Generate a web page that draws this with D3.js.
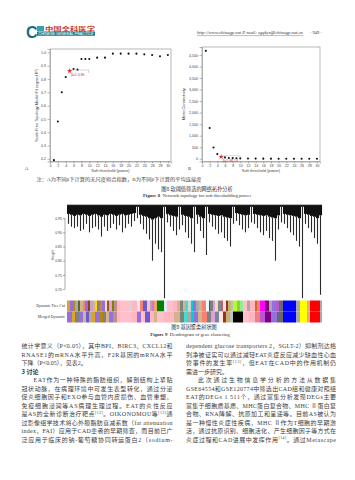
<!DOCTYPE html>
<html><head><meta charset="utf-8">
<script src="https://cdn.jsdelivr.net/npm/d3@7"></script>
<style>body{margin:0;background:#fff}svg{display:block}</style>
</head><body>
<svg id="page" width="355" height="480"></svg>
<script>
// ---------------- DATA ----------------
const powers = [1,2,3,4,5,6,7,8,9,10,12,14,16,18,20,22,24,26,28,30];
const scaleFreeR2 = [0.19,0.48,0.70,0.815,0.86,0.875,0.87,0.95,0.95,0.95,0.96,0.96,0.99,0.99,0.99,0.99,0.985,0.98,0.97,0.98];
const meanConnectivity = [4680,1330,490,200,86,58,35,25,18,14,8,5,4,3,2,2,1,1,1,1];
const chosenPower = 5;
const powerTicks = [0,2,4,6,8,10,12,14,16,18,20,22,24,26,28,30];
const r2Ticks = [0.2,0.3,0.4,0.5,0.6,0.7,0.8,0.9,1.0];
const kTicks = [0,500,1000,1500,2000,2500,3000,3500,4000,4500];
const heightTicks = [0.70,0.75,0.80,0.85,0.90,0.95];

// dendrogram: lowest merge height (tip) and lower edge of the dense band, per leaf group
const dendroTip = [
0.93,0.92,0.915,0.92,0.905,0.91,0.93,0.90,0.915,0.92,0.91,
0.885,
0.92,0.905,0.915,0.93,0.91,0.925,0.90,0.915,0.93,0.92,0.94,0.95,
0.93,0.91,0.895,0.875,0.80,0.86,0.84,0.83,0.668,
0.935,0.92,0.905,0.89,0.91,
0.925,0.90,0.88,0.86,0.83,
0.93,0.905,0.88,0.82,
0.935,0.92,0.91,0.895,0.90,0.88,0.87,0.85,0.93,
0.94,0.925,0.91,0.90,0.915,0.935,
0.93,0.915,0.90,0.89,0.905,0.88,0.87,0.80,0.91,0.935,
0.93,0.915,0.90,0.89,0.87,0.85,0.668,
0.93,0.915,0.90,0.88,0.86,0.68];
const dendroSolid = [
0.965,0.962,0.958,0.962,0.96,0.965,0.962,0.958,0.962,0.965,0.96,
0.955,
0.962,0.96,0.965,0.962,0.958,0.962,0.965,0.96,0.962,0.965,0.968,0.99,
0.962,0.958,0.955,0.95,0.945,0.95,0.955,0.95,0.99,
0.965,0.96,0.958,0.955,0.99,
0.962,0.958,0.955,0.95,0.99,
0.962,0.955,0.95,0.99,
0.965,0.962,0.96,0.958,0.96,0.955,0.952,0.95,0.99,
0.968,0.965,0.962,0.96,0.962,0.99,
0.965,0.962,0.96,0.958,0.96,0.955,0.952,0.95,0.96,0.99,
0.965,0.962,0.96,0.958,0.955,0.95,0.99,
0.965,0.962,0.958,0.955,0.95,0.96];
const dendroTop = 0.996;

const dynamicColors = ["#DAA520","#9370DB","#B8860B","#A9A9A9","#556B2F","#D2B48C","#FA8072","#9370DB","#8B4513","#C8A2C8","#D2B48C","#FFD700","#808080","#CD853F","#9370DB","#F5DEB3","#A0522D","#DDA0DD","#808000","#BC8F8F","#FFB6C1",
"#FFC0CB","#D3D3D3","#FFB6C1",
"#E6E6FA","#FA8072","#6A5ACD","#FFC0CB","#A9A9A9","#DA70D6","#F4A460",
"#008000",
"#E6E6FA","#FFC0CB","#FFB6C1","#D2B48C",
"#808080","#D2B48C","#40E0D0","#D3D3D3","#00CED1","#9370DB","#A9A9A9","#D2B48C","#FA8072","#E0FFFF","#B22222","#808080","#DDA0DD","#F5DEB3","#778899","#CD5C5C","#FFE4E1","#A52A2A","#BDB76B","#C0C0C0",
"#ADFF2F","#9ACD32","#90EE90",
"#FFC0CB","#A9A9A9","#FFB6C1","#D2691E","#F08080",
"#FF00FF","#800080","#A9A9A9","#9370DB","#BA55D3","#696969",
"#0000FF","#A9A9A9","#FFFF00","#D2B48C","#FF0000","#A9A9A9"];
const dynamicSizes = [3,3,2,3,2,3,2,3,2,3,2,2,3,2,3,2,2,3,2,3,3,
10,2,5,
3,3,4,3,2,2,3,
7,
3,6,4,3,
3,2,3,3,2,3,3,3,4,3,1,3,2,3,3,2,3,2,3,2,
4,3,3,
4,3,5,2,3,
5,4,3,4,3,4,
13,4,7,3,10,2];
const mergedColors = ["#9370DB","#DAA520","#808080","#9370DB","#D2B48C","#6A5ACD","#A9A9A9","#DAA520","#9370DB","#B8860B","#808080","#D2B48C","#9370DB","#BC8F8F","#FFB6C1",
"#FFC0CB","#FFB6C1",
"#9370DB","#FFC0CB","#6A5ACD","#FFB6C1","#D2B48C",
"#FFC0CB",
"#FFB6C1","#D2B48C",
"#808080","#40E0D0","#A9A9A9","#00CED1","#9370DB","#D2B48C","#FA8072","#808080","#DDA0DD","#778899","#FFE4E1","#A52A2A","#BDB76B","#C0C0C0",
"#000000",
"#FFC0CB","#FFB6C1","#F08080",
"#BA55D3","#800080","#9370DB","#696969",
"#0000FF","#A9A9A9","#FFFF00","#D2B48C","#FF0000","#A9A9A9"];
const mergedSizes = [5,3,4,4,3,3,3,3,5,3,3,3,4,4,3,
12,5,
4,4,5,4,3,
7,
10,6,
4,3,4,3,4,4,5,4,4,4,4,3,4,3,
10,
6,6,5,
5,6,6,6,
13,4,7,3,10,2];
const rowLabels = ["Dynamic Tree Cut","Merged Dynamic"];

const leftText = [
"统计学意义（P<0.05），其中BPI、BIRC3、CXCL12和",
"RNASE1的mRNA水平升高，F2R基因的mRNA水平",
"下降（P<0.05），见表2。",
"3  讨论",
"　　EAT作为一种特殊的脂肪组织，解剖结构上紧贴",
"冠状动脉，在病理环境中可发生表型转化，通过分泌",
"促炎细胞因子和EXO参与血管内皮损伤、血管重塑、",
"免疫细胞浸润等AS病理生理过程。EAT的炎性反应",
"是AS的全新诊断治疗靶点{[12]}。OIKONOMOU等{[13]}通",
"过影像组学技术将心外膜脂肪衰减系数（fat attenuation",
"index，FAI）应用于CAD患者的早期筛查，而目前已广",
"泛应用于临床的钠-葡萄糖协同转运蛋白2（sodium-"];
const rightText = [
"dependent glucose transporters 2，SGLT-2）抑制剂达格",
"列净被证实可以通过减轻EAT炎症反应减少缺血性心血",
"管事件的发生率{[13]}，但EAT在CAD中的作用机制仍",
"需进一步研究。",
"　　此次通过生物信息学分析的方法从数据集",
"GSE64554和GSE120774中筛选出CAD组和健康对照组",
"EAT的DEGs 1 511个，通过富集分析发现DEGs主要",
"富集于细胞质基质、MHC蛋白复合物、MHC Ⅱ蛋白复",
"合物、RNA降解、抗原加工和呈递等。目前AS被认为",
"是一种慢性炎症性疾病，MHC Ⅱ作为T细胞的早期激",
"活，通过抗原识别、细胞活化、产生细胞因子等方式在",
"炎症过程和CAD进展中发挥作用{[14]}。通过Metascape"];
const leftNoJustify = [2,3];
const rightNoJustify = [3];

// ---------------- DRAW ----------------
const svg = d3.select("#page");
const serif = "'Liberation Serif','Noto Sans CJK SC',serif";
const sans = "'Liberation Sans','DejaVu Sans',sans-serif";
const cjk = "'Noto Sans CJK SC',sans-serif";

// header
svg.append("text").attr("x",26).attr("y",37.5).attr("font-family",sans).attr("font-weight","bold")
  .attr("font-size",16).attr("fill","#16707c").text("C");
svg.append("rect").attr("x",37).attr("y",26).attr("width",7).attr("height",5).attr("fill","#3aa0a8");
svg.append("text").attr("x",45).attr("y",30.7).attr("font-family",cjk).attr("font-weight","bold")
  .attr("font-size",5.2).attr("fill","#c0392b").attr("textLength",50).attr("lengthAdjust","spacingAndGlyphs").text("中国全科医学");
svg.append("rect").attr("x",37).attr("y",31.5).attr("width",58).attr("height",4.3).attr("fill","#1f7f8a");
svg.append("text").attr("x",38.5).attr("y",34.9).attr("font-family",sans).attr("font-size",3)
  .attr("fill","#fff").attr("textLength",55).attr("lengthAdjust","spacingAndGlyphs").text("CHINESE GENERAL PRACTICE");
svg.append("text").attr("x",197).attr("y",34.3).attr("font-family",serif).attr("font-style","italic")
  .attr("font-size",4.3).attr("fill","#333").attr("textLength",106).attr("lengthAdjust","spacingAndGlyphs")
  .text("http://www.chinagp.net   E-mail: zgqkyx@chinagp.net.cn");
svg.append("line").attr("x1",197).attr("x2",303).attr("y1",35.6).attr("y2",35.6).attr("stroke","#555").attr("stroke-width",0.4);
svg.append("text").attr("x",310).attr("y",34.3).attr("font-family",serif).attr("font-size",4.5).attr("fill","#333").text("· 949 ·");

// scatter panels
function scatterPanel(opts){
  const {x0,x1,y0,y1,yDomain,values,yTicks,yFmt,yTitle,yTitleX,labelText,panel,panelX} = opts;
  const g = svg.append("g");
  const x = d3.scaleLinear().domain([0,30.8]).range([x0,x1]);
  const y = d3.scaleLinear().domain(yDomain).range([y1,y0]);
  g.append("rect").attr("x",x0).attr("y",y0).attr("width",x1-x0).attr("height",y1-y0)
    .attr("fill","none").attr("stroke","#9a9a9a").attr("stroke-width",0.7);
  const ya = g.append("g").attr("transform",`translate(${x0},0)`)
    .call(d3.axisLeft(y).tickValues(yTicks).tickSize(2.5).tickPadding(1.5).tickFormat(yFmt));
  const xa = g.append("g").attr("transform",`translate(0,${y1})`)
    .call(d3.axisBottom(x).tickValues(powerTicks).tickSize(2).tickPadding(1));
  [ya,xa].forEach(a=>{
    a.select(".domain").attr("stroke","#9a9a9a").attr("stroke-width",0.7);
    a.selectAll(".tick line").attr("stroke","#777").attr("stroke-width",0.5);
    a.selectAll(".tick text").attr("font-family",sans).attr("font-size",3.6).attr("fill","#444");
  });
  g.append("text").attr("transform",`translate(${yTitleX},${(y0+y1)/2}) rotate(-90)`)
    .attr("text-anchor","middle").attr("font-family",sans).attr("font-size",3.9).attr("fill","#444").text(yTitle);
  g.append("text").attr("x",(x0+x1)/2).attr("y",y1+10).attr("text-anchor","middle")
    .attr("font-family",sans).attr("font-size",3.9).attr("fill","#444").text("Soft threshold (power)");
  g.append("text").attr("x",panelX).attr("y",y1+8).attr("font-family",serif).attr("font-size",4.5).attr("fill","#333").text(panel);
  powers.forEach((p,i)=>{
    if(p===chosenPower) return;
    g.append("circle").attr("cx",x(p)).attr("cy",y(values[i])).attr("r",1.05).attr("fill","#111");
  });
  const ci = powers.indexOf(chosenPower);
  const cx = x(chosenPower), cy = y(values[ci]);
  g.append("path").attr("transform",`translate(${cx},${cy})`)
    .attr("d",d3.symbol().type(d3.symbolStar).size(9)).attr("fill","#e0282e");
  g.append("path").attr("d",`M${cx+1},${cy-1}H${cx+19}V${cy+2}`).attr("fill","none").attr("stroke","#999").attr("stroke-width",0.4);
  g.append("text").attr("x",cx+1.5).attr("y",cy+5.5).attr("font-family",sans).attr("font-size",3.4)
    .attr("fill","#e0282e").text(labelText);
}
scatterPanel({x0:50,x1:171,y0:49,y1:161.5,yDomain:[0.18,1.025],values:scaleFreeR2,yTicks:r2Ticks,
  yFmt:d3.format(".1f"),yTitle:"Scale Free Topology Model Fit (signed R²)",yTitleX:37.5,
  labelText:"β=5  "+scaleFreeR2[powers.indexOf(chosenPower)].toFixed(2),panel:"A",panelX:25});
scatterPanel({x0:202,x1:320,y0:47,y1:161.5,yDomain:[-120,4846],values:meanConnectivity,yTicks:kTicks,
  yFmt:d3.format(","),yTitle:"Mean Connectivity",yTitleX:185,
  labelText:"β=5  "+meanConnectivity[powers.indexOf(chosenPower)]+".14",panel:"B",panelX:188});

// figure 8 captions
svg.append("text").attr("x",36.5).attr("y",181).attr("font-family",serif).attr("font-size",4.7).attr("fill","#444")
  .attr("textLength",165).attr("lengthAdjust","spacingAndGlyphs").text("注：A为不同β下计算的无尺度拟合指数，B为不同β下计算的平均连接度");
svg.append("text").attr("x",197).attr("y",190.5).attr("text-anchor","middle").attr("font-family",cjk).attr("font-size",5.2).attr("fill","#333")
  .text("图8  软阈值筛选的网络拓扑分析");
const f8 = svg.append("text").attr("x",197).attr("y",197).attr("text-anchor","middle").attr("font-family",serif).attr("font-size",4.8).attr("fill","#333");
f8.append("tspan").attr("font-weight","bold").text("Figure 8");
f8.append("tspan").text("\u00a0\u00a0Network topology for soft thresholding power");

// dendrogram
const dx = d3.scaleBand().domain(d3.range(dendroTip.length)).range([67,322]).paddingInner(0);
const dy = d3.scaleLinear().domain([0.665,1.0]).range([299,204]);
const dg = svg.append("g");
dg.selectAll("rect.solid").data(dendroSolid).join("rect").attr("class","solid")
  .attr("x",(d,i)=>dx(i)).attr("width",dx.bandwidth()+0.05)
  .attr("y",dy(dendroTop)).attr("height",d=>Math.max(0,dy(d)-dy(dendroTop))).attr("fill","#111");
dg.selectAll("line.leaf").data(dendroTip).join("line").attr("class","leaf")
  .attr("x1",(d,i)=>dx(i)+dx.bandwidth()/2).attr("x2",(d,i)=>dx(i)+dx.bandwidth()/2)
  .attr("y1",(d,i)=>dy(dendroSolid[i])).attr("y2",d=>dy(d)).attr("stroke","#2a2a2a").attr("stroke-width",1.1);
dg.append("line").attr("x1",67).attr("x2",322).attr("y1",dy(dendroTop)).attr("y2",dy(dendroTop)).attr("stroke","#111").attr("stroke-width",0.8);
const ha = dg.append("g").attr("transform","translate(65,0)")
  .call(d3.axisLeft(dy).tickValues(heightTicks).tickSize(2).tickPadding(1).tickFormat(d3.format(".2f")));
ha.select(".domain").remove();
ha.append("line").attr("x1",0).attr("x2",0).attr("y1",dy(heightTicks[0])).attr("y2",dy(heightTicks[heightTicks.length-1])).attr("stroke","#555").attr("stroke-width",0.5);
ha.selectAll(".tick line").attr("stroke","#555").attr("stroke-width",0.5);
ha.selectAll(".tick text").attr("font-family",sans).attr("font-size",3.5).attr("fill","#444");
dg.append("text").attr("transform",`translate(53.5,${dy(0.82)}) rotate(-90)`).attr("text-anchor","middle")
  .attr("font-family",sans).attr("font-size",3.6).attr("fill","#444").text("Height");

// colour rows
function colorRow(colors,sizes,y0,h,label){
  const cum = [0,...d3.cumsum(sizes)];
  const xs = d3.scaleLinear().domain([0,cum[cum.length-1]]).range([67,322]);
  svg.append("g").selectAll("rect").data(colors).join("rect")
    .attr("x",(d,i)=>xs(cum[i])).attr("width",(d,i)=>xs(cum[i+1])-xs(cum[i])+0.05)
    .attr("y",y0).attr("height",h).attr("fill",d=>d);
  svg.append("text").attr("x",65).attr("y",y0+h/2+1.3).attr("text-anchor","end")
    .attr("font-family",serif).attr("font-size",3.9).attr("fill","#333").text(label);
}
colorRow(dynamicColors,dynamicSizes,300.5,11,rowLabels[0]);
colorRow(mergedColors,mergedSizes,311.5,11,rowLabels[1]);

svg.append("text").attr("x",194).attr("y",328.5).attr("text-anchor","middle").attr("font-family",cjk).attr("font-size",5.2).attr("fill","#333")
  .text("图9  基因聚类树状图");
const f9 = svg.append("text").attr("x",190).attr("y",335.5).attr("text-anchor","middle").attr("font-family",serif).attr("font-size",4.8).attr("fill","#333");
f9.append("tspan").attr("font-weight","bold").text("Figure 9");
f9.append("tspan").text("\u00a0\u00a0Dendrogram of gene clustering");

// body text
function column(lines,x0,width,noJust){
  const fs = 6.0, y0 = 348, step = 8.5;
  lines.forEach((ln,i)=>{
    let indent = 0, s = ln;
    if(s.startsWith("　　")){ indent = 2*fs; s = s.slice(2); }
    const heading = /^\d\s+讨论/.test(s);
    const t = svg.append("text").attr("x",x0+indent).attr("y",y0+i*step)
      .attr("font-family",heading?cjk:serif).attr("font-weight",heading?"bold":"normal")
      .attr("font-size",fs).attr("fill","#3c3c3c");
    let shift = 0;
    s.split(/(\{[^}]*\})/).forEach(p=>{
      if(!p) return;
      if(p.startsWith("{")){ t.append("tspan").attr("dy",-2.2).attr("font-size",3.8).text(p.slice(1,-1)); shift = 2.2; }
      else { t.append("tspan").attr("dy",shift).text(p); shift = 0; }
    });
    if(!noJust.includes(i)) t.attr("textLength",width-indent).attr("lengthAdjust","spacing");
  });
}
column(leftText,21.5,151,leftNoJustify);
column(rightText,186,150,rightNoJustify);
</script>
</body></html>
